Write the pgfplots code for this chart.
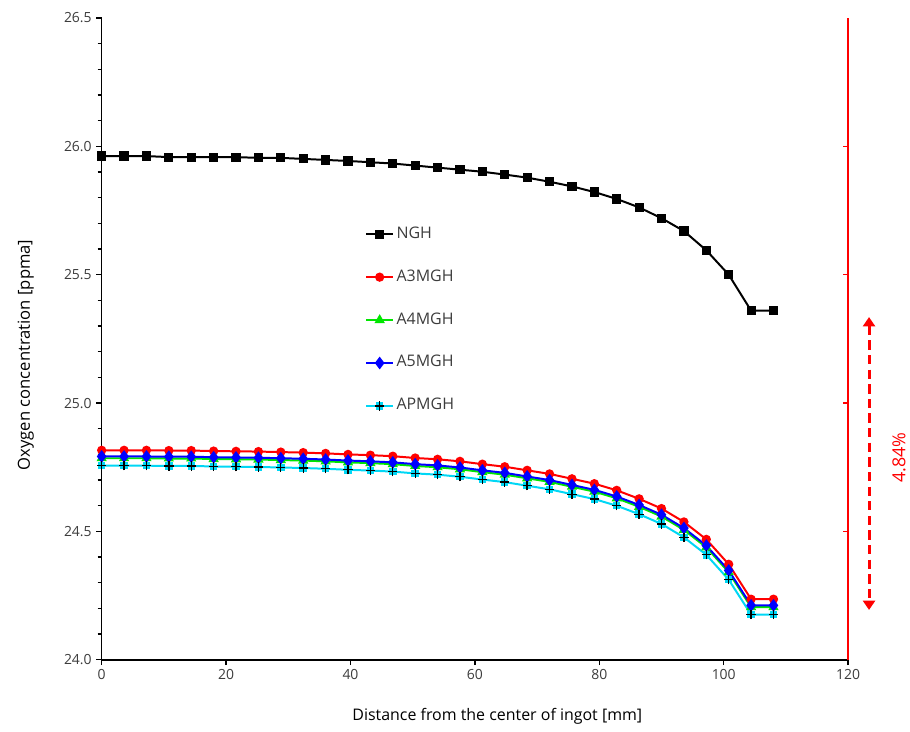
\documentclass[border=0pt]{standalone}
\usepackage{fontspec}
\setmainfont{Open Sans}
\usepackage{pgfplots}
\usepackage{pgfplotstable}
\pgfplotsset{compat=1.18}
\usetikzlibrary{arrows.meta}
\definecolor{cyanC}{RGB}{0,215,245}
\definecolor{greenC}{RGB}{0,230,0}
\definecolor{tickgray}{RGB}{60,60,60}
\pgfdeclareplotmark{sqplus}{%
  \pgfpathrectangle{\pgfqpoint{-\pgfplotmarksize}{-\pgfplotmarksize}}{\pgfqpoint{2\pgfplotmarksize}{2\pgfplotmarksize}}%
  \pgfusepathqfill
  \pgfsetstrokecolor{black}%
  \pgfsetlinewidth{1pt}%
  \pgfpathmoveto{\pgfqpoint{-1.25\pgfplotmarksize}{0pt}}\pgfpathlineto{\pgfqpoint{1.25\pgfplotmarksize}{0pt}}%
  \pgfpathmoveto{\pgfqpoint{0pt}{-1.25\pgfplotmarksize}}\pgfpathlineto{\pgfqpoint{0pt}{1.25\pgfplotmarksize}}%
  \pgfusepathqstroke
}
\pgfplotstableread{
x     ngh     a3      a4      a5      ap
0     25.962  24.816  24.785  24.792  24.756
3.6   25.962  24.816  24.785  24.792  24.756
7.2   25.962  24.816  24.785  24.792  24.756
10.8  25.958  24.815  24.784  24.791  24.755
14.4  25.958  24.815  24.784  24.791  24.755
18.0  25.958  24.813  24.782  24.789  24.753
21.6  25.958  24.812  24.781  24.788  24.752
25.2  25.955  24.811  24.780  24.787  24.751
28.8  25.955  24.809  24.778  24.785  24.749
32.4  25.951  24.807  24.776  24.783  24.747
36.0  25.947  24.804  24.773  24.780  24.744
39.6  25.943  24.800  24.769  24.776  24.740
43.2  25.938  24.797  24.766  24.773  24.737
46.8  25.933  24.793  24.762  24.769  24.733
50.4  25.925  24.786  24.755  24.762  24.726
54.0  25.917  24.781  24.750  24.757  24.721
57.6  25.909  24.773  24.742  24.749  24.713
61.2  25.901  24.762  24.731  24.738  24.702
64.8  25.890  24.752  24.721  24.728  24.692
68.4  25.878  24.738  24.707  24.714  24.678
72.0  25.862  24.724  24.693  24.700  24.664
75.6  25.844  24.705  24.674  24.681  24.645
79.2  25.822  24.686  24.655  24.662  24.626
82.8  25.795  24.660  24.629  24.636  24.600
86.4  25.762  24.627  24.596  24.603  24.567
90.0  25.720  24.589  24.558  24.565  24.529
93.6  25.670  24.537  24.506  24.513  24.477
97.2  25.595  24.469  24.438  24.445  24.409
100.8 25.500  24.372  24.341  24.348  24.312
104.4 25.360  24.236  24.205  24.212  24.176
108.0 25.360  24.236  24.205  24.212  24.176
}\datatable
\begin{document}
\begin{tikzpicture}
\begin{axis}[
  width=561.75pt, height=483pt, scale only axis,
  xmin=0, xmax=120, ymin=24, ymax=26.5,
  axis x line=bottom, axis y line=left,
  axis line style={-, line width=1.2pt},
  xtick={0,20,40,60,80,100,120},
  ytick={24,24.5,25,25.5,26,26.5},
  minor y tick num=4,
  tick align=outside, major tick length=4pt, minor tick length=3pt,
  tick style={black, line width=1pt},
  yticklabel style={/pgf/number format/.cd, fixed, fixed zerofill, precision=1},
  ticklabel style={font=\fontsize{10.5}{12}\selectfont, text=tickgray},
  /pgf/number format/assume math mode=true,
  xlabel={Distance from the center of ingot [mm]},
  ylabel={Oxygen concentration [ppma]},
  xlabel style={at={(rel axis cs:0.530,-0.0885)}, anchor=center, font=\fontsize{12}{14}\selectfont},
  ylabel style={at={(rel axis cs:-0.1015,0.475)}, anchor=center, font=\fontsize{12.5}{15}\selectfont},
  legend style={at={(rel axis cs:0.353,0.680)}, anchor=north west, draw=none, fill=none,
    inner sep=0pt, row sep=16.3pt, font=\fontsize{12}{14}\selectfont, text=tickgray,
    nodes={text height=9pt, text depth=3pt, inner sep=2pt}, cells={anchor=west}},
  legend image code/.code={\draw[mark repeat=2,mark phase=2] plot coordinates {(0cm,0cm) (0.35cm,0cm) (0.7cm,0cm)};},
  legend image post style={line width=1.5pt},
  clip=false,
]
\addplot[black, line width=1.5pt, mark=square*, mark size=2.7pt] table[x=x,y=ngh]{\datatable};
\addlegendentry{NGH}
\addplot[red, line width=1.5pt, mark=*, mark size=2.7pt] table[x=x,y=a3]{\datatable};
\addlegendentry{A3MGH}
\addplot[greenC, line width=1.5pt, mark=triangle*, mark size=3pt] table[x=x,y=a4]{\datatable};
\addlegendentry{A4MGH}
\addplot[blue, line width=1.5pt, mark=diamond*, mark size=3.6pt] table[x=x,y=a5]{\datatable};
\addlegendentry{A5MGH}
\addplot[cyanC, line width=1.5pt, mark=sqplus, mark size=2.8pt, mark options={fill=cyanC}] table[x=x,y=ap]{\datatable};
\addlegendentry{APMGH}
\draw[red, line width=2.2pt, dash pattern=on 7pt off 4pt, {Triangle[width=9pt,length=7pt]}-{Triangle[width=9pt,length=7pt]}] (axis cs:123.36,25.335) -- (axis cs:123.36,24.194);
\node[red, rotate=90, font=\fontsize{13.5}{15}\selectfont] at (axis cs:128.17,24.787) {4.84\%};
\path (rel axis cs:-0.1362,-0.1118) (rel axis cs:1.0788,1.028);
\end{axis}
\begin{axis}[
  width=561.75pt, height=483pt, scale only axis,
  xmin=0, xmax=120, ymin=24, ymax=26.5,
  axis x line=none, axis y line*=right,
  axis line style={-, red, line width=1.2pt},
  ytick={24.5,25,25.5,26}, yticklabels={},
  tick align=inside, major tick length=4pt,
  ytick style={red, line width=1pt},
]
\end{axis}
\end{tikzpicture}
\end{document}
